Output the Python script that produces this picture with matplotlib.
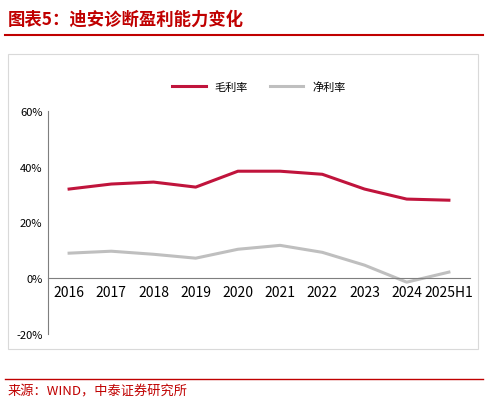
import matplotlib
matplotlib.use("Agg")
import matplotlib.pyplot as plt
from matplotlib.patches import Rectangle
from matplotlib.lines import Line2D

plt.rcParams['font.family'] = ['Noto Sans CJK SC', 'DejaVu Sans']

years = ['2016', '2017', '2018', '2019', '2020', '2021', '2022', '2023', '2024', '2025H1']
gross = [32.0, 33.8, 34.5, 32.7, 38.4, 38.4, 37.3, 32.0, 28.4, 28.0]
net = [9.0, 9.7, 8.6, 7.2, 10.4, 11.8, 9.3, 4.7, -1.4, 2.2]

W, H = 488, 406
fig = plt.figure(figsize=(W/100, H/100), dpi=100)

fig.text(8/W, 1-20/H, '图表5：迪安诊断盈利能力变化', color='#C00000', fontsize=12.5,
         fontweight='bold', va='center', ha='left', style='italic')
fig.add_artist(Line2D([5/W, 483/W], [1-36/H, 1-36/H], color='#C00000', lw=1.5))
fig.add_artist(Rectangle((8/W, 1-350/H), 470/W, 295/H, fill=False, ec='#D9D9D9', lw=0.8))
fig.add_artist(Line2D([5/W, 483/W], [1-380/H, 1-380/H], color='#C00000', lw=1))
fig.text(8/W, 1-392/H, '来源：WIND，中泰证券研究所', color='#C00000', fontsize=9.5, va='center')

ax = fig.add_axes([48/W, 1-335/H, 422/W, 223/H])
x = range(len(years))
ax.plot(x, gross, color='#C0143C', lw=2.2, label='毛利率')
ax.plot(x, net, color='#BFBFBF', lw=2.2, label='净利率')
ax.set_ylim(-20, 60)
ax.set_yticks([-20, 0, 20, 40, 60])
ax.set_yticklabels(['-20%', '0%', '20%', '40%', '60%'], fontsize=8)
ax.set_xlim(-0.5, len(years)-0.5)
ax.set_xticks(list(x))
ax.set_xticklabels(years, fontsize=8)
ax.tick_params(length=0, pad=4)
ax.tick_params(axis='x', pad=5)
for s in ['top', 'right']:
    ax.spines[s].set_visible(False)
ax.spines['bottom'].set_position(('data', 0))
ax.spines['bottom'].set_color('#7F7F7F')
ax.spines['bottom'].set_linewidth(0.8)
ax.spines['left'].set_color('#7F7F7F')
ax.legend(loc='upper center', bbox_to_anchor=(0.5, 1.18), ncol=2, frameon=False,
          fontsize=8, handlelength=3, columnspacing=2)
fig.savefig('out.png', dpi=100)
